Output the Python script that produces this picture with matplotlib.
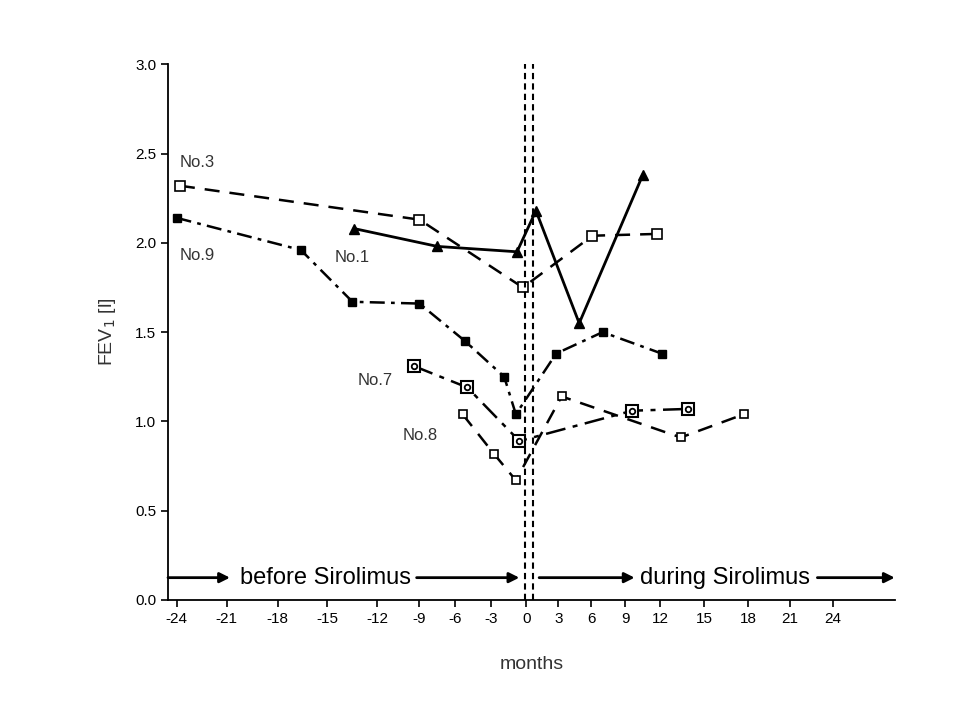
import numpy as np
import matplotlib
matplotlib.use("Agg")
import matplotlib.pyplot as plt

plt.rcParams['font.family'] = ['Liberation Sans', 'DejaVu Sans']

# non-uniform month axis (tick value -> relative position)
tick_months = [-30, -24, -21, -18, -15, -12, -9, -6, -3, 0, 3, 6, 9, 12, 15, 18, 21, 24, 30]
tick_pos = [91, 177, 227, 278, 328, 378, 420, 456, 492, 527, 559, 592, 626, 661, 705, 749, 791, 834, 920]

no3_x = [-23.8, -9.0, -0.3, 6.1, 11.7]
no3_y = [2.32, 2.13, 1.75, 2.04, 2.05]

no9_x = [-24.0, -16.6, -13.5, -9.0, -5.2, -1.9, -0.9, 2.8, 7.0, 12.1]
no9_y = [2.14, 1.96, 1.67, 1.66, 1.45, 1.25, 1.04, 1.38, 1.50, 1.38]

no1_x = [-13.4, -7.5, -0.8, 0.9, 4.9, 10.5]
no1_y = [2.08, 1.98, 1.95, 2.18, 1.55, 2.38]

no7_x = [-9.4, -5.0, -0.6, 9.6, 13.9]
no7_y = [1.31, 1.19, 0.89, 1.06, 1.07]

no8_x = [-5.4, -2.8, -0.9, 3.3, 13.4, 17.7]
no8_y = [1.04, 0.82, 0.67, 1.14, 0.91, 1.04]


def fwd(x):
    return np.interp(x, tick_months, tick_pos)


def inv(p):
    return np.interp(p, tick_pos, tick_months)


fig = plt.figure(figsize=(9.6, 7.2), dpi=100)
ax = fig.add_axes([0.175, 0.1667, 0.757, 0.744])
ax.set_xscale('function', functions=(fwd, inv))

ax.plot(no3_x, no3_y, color='black', lw=1.8, ls=(0, (6, 4)), marker='s', ms=7,
        mfc='white', mec='black', mew=1.2)
ax.plot(no9_x, no9_y, color='black', lw=1.8, ls=(0, (6, 2.5, 1.5, 2.5)), marker='s', ms=6,
        mfc='black', mec='black')
ax.plot(no1_x, no1_y, color='black', lw=2.0, ls='-', marker='^', ms=7,
        mfc='black', mec='black')
ax.plot(no7_x, no7_y, color='black', lw=1.8, ls=(0, (8, 3, 2, 3)), marker='s', ms=9,
        mfc='white', mec='black', mew=1.5)
ax.plot(no7_x, no7_y, ls='none', marker='o', ms=4, mfc='white', mec='black', mew=1.3)
ax.plot(no8_x, no8_y, color='black', lw=1.8, ls=(0, (6, 4)), marker='s', ms=6,
        mfc='white', mec='black', mew=1.2)

for lbl, x, y in [("No.3", -23.8, 2.45), ("No.9", -23.8, 1.93), ("No.1", -14.6, 1.92),
                  ("No.7", -13.2, 1.23), ("No.8", -10.2, 0.92)]:
    ax.text(x, y, lbl, fontsize=12, color='#333333', va='center')

# start of treatment
for xv in [-0.1, 0.66]:
    ax.axvline(xv, color='black', lw=1.5, ls=(0, (3, 2)))

# period arrows
ay = 0.125
aprops = dict(arrowstyle='-|>', color='black', lw=2, mutation_scale=15, shrinkA=0, shrinkB=0)
ax.annotate('', xy=(-20.8, ay), xytext=(-24.6, ay), arrowprops=aprops)
ax.text(-20.2, ay, 'before Sirolimus', fontsize=17, va='center', ha='left')
ax.annotate('', xy=(-0.6, ay), xytext=(-9.2, ay), arrowprops=aprops)
ax.annotate('', xy=(9.8, ay), xytext=(1.2, ay), arrowprops=aprops)
ax.text(10.3, ay, 'during Sirolimus', fontsize=17, va='center', ha='left')
ax.annotate('', xy=(28.3, ay), xytext=(22.9, ay), arrowprops=aprops)

ax.set_xlim(-24.6, 28.3)
ax.set_ylim(0, 3.0)
ax.set_xticks(tick_months[1:-1])
ax.set_xticklabels([str(t) for t in tick_months[1:-1]], fontsize=11)
ax.set_yticks(np.arange(0, 3.01, 0.5))
ax.set_yticklabels([f"{v:.1f}" for v in np.arange(0, 3.01, 0.5)], fontsize=11)
ax.spines['top'].set_visible(False)
ax.spines['right'].set_visible(False)
ax.spines['left'].set_linewidth(1.3)
ax.spines['bottom'].set_linewidth(1.3)
ax.tick_params(direction='out', length=5, width=1.2)
ax.set_ylabel('FEV$_1$ [l]', fontsize=14, color='#333333', labelpad=12)
ax.set_xlabel('months', fontsize=14, color='#333333', labelpad=22)

plt.savefig('out.png', dpi=100)
plt.close()
